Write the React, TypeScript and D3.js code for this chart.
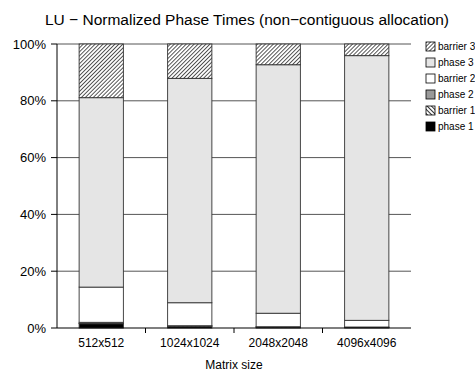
import * as d3 from 'd3';
import { useRef, useEffect } from 'react';

// categories and stacked values (percent of total time)
const categories = ['512x512', '1024x1024', '2048x2048', '4096x4096'];
const phase1 = [1.5, 0.6, 0.3, 0.2];
const phase2 = [0.4, 0.1, 0.1, 0.1];
const barrier1 = [0.1, 0.1, 0.05, 0.05];
const barrier2 = [12.4, 8.1, 4.75, 2.35];
const phase3 = [66.7, 79.0, 87.5, 93.2];
const barrier3 = [18.9, 12.1, 7.3, 4.1];
const yTicks = [0, 20, 40, 60, 80, 100];

const seriesKeys = ['phase 1', 'barrier 1', 'phase 2', 'barrier 2', 'phase 3', 'barrier 3'];
const seriesValues: Record<string, number[]> = {
  'phase 1': phase1,
  'barrier 1': barrier1,
  'phase 2': phase2,
  'barrier 2': barrier2,
  'phase 3': phase3,
  'barrier 3': barrier3,
};
const legendOrder = ['barrier 3', 'phase 3', 'barrier 2', 'phase 2', 'barrier 1', 'phase 1'];

export default function App() {
  const ref = useRef<SVGSVGElement>(null);

  useEffect(() => {
    document.body.style.margin = '0';
    const width = 475;
    const height = 371;
    const margin = { top: 44, right: 64, bottom: 43, left: 57 };

    const svg = d3.select(ref.current)
      .attr('width', width)
      .attr('height', height)
      .style('font-family', 'Liberation Sans, Arial, sans-serif');
    svg.selectAll('*').remove();

    // hatch patterns
    const defs = svg.append('defs');
    const p3 = defs.append('pattern')
      .attr('id', 'hatch-b3')
      .attr('patternUnits', 'userSpaceOnUse')
      .attr('width', 2.8)
      .attr('height', 2.8)
      .attr('patternTransform', 'rotate(45)');
    p3.append('rect').attr('width', 2.8).attr('height', 2.8).attr('fill', 'white');
    p3.append('line').attr('x1', 0).attr('y1', 0).attr('x2', 0).attr('y2', 2.8)
      .attr('stroke', 'black').attr('stroke-width', 1.3);
    const p1 = defs.append('pattern')
      .attr('id', 'hatch-b1')
      .attr('patternUnits', 'userSpaceOnUse')
      .attr('width', 3)
      .attr('height', 3)
      .attr('patternTransform', 'rotate(-45)');
    p1.append('rect').attr('width', 3).attr('height', 3).attr('fill', 'white');
    p1.append('line').attr('x1', 0).attr('y1', 0).attr('x2', 0).attr('y2', 3)
      .attr('stroke', 'black').attr('stroke-width', 1.6);

    const fills: Record<string, string> = {
      'phase 1': '#000000',
      'barrier 1': 'url(#hatch-b1)',
      'phase 2': '#999999',
      'barrier 2': '#ffffff',
      'phase 3': '#e5e5e5',
      'barrier 3': 'url(#hatch-b3)',
    };

    const x = d3.scaleBand()
      .domain(categories)
      .range([margin.left, width - margin.right])
      .paddingInner(0.5)
      .paddingOuter(0.25);

    const y = d3.scaleLinear()
      .domain([0, 100])
      .range([height - margin.bottom, margin.top]);

    // gridlines
    svg.append('g')
      .selectAll('line')
      .data(yTicks.filter(t => t > 0))
      .enter()
      .append('line')
      .attr('x1', margin.left)
      .attr('x2', width - margin.right)
      .attr('y1', d => y(d))
      .attr('y2', d => y(d))
      .attr('stroke', '#555')
      .attr('stroke-width', 1);

    // stacked bars
    const rows = categories.map((c, i) => {
      const r: any = { category: c };
      seriesKeys.forEach(k => { r[k] = seriesValues[k][i]; });
      return r;
    });
    const stacked = d3.stack().keys(seriesKeys)(rows);

    svg.append('g')
      .selectAll('g')
      .data(stacked)
      .enter()
      .append('g')
      .attr('fill', d => fills[d.key])
      .selectAll('rect')
      .data(d => d)
      .enter()
      .append('rect')
      .attr('x', d => x((d.data as any).category)!)
      .attr('width', x.bandwidth())
      .attr('y', d => y(d[1]))
      .attr('height', d => y(d[0]) - y(d[1]))
      .attr('stroke', '#333')
      .attr('stroke-width', 0.9);

    // y axis
    const yAxis = svg.append('g').attr('transform', `translate(${margin.left},0)`);
    yAxis.append('line')
      .attr('x1', 0).attr('x2', 0)
      .attr('y1', y(0)).attr('y2', y(100))
      .attr('stroke', 'black');
    yAxis.selectAll('line.tick')
      .data(yTicks)
      .enter()
      .append('line')
      .attr('class', 'tick')
      .attr('x1', -6).attr('x2', 0)
      .attr('y1', d => y(d)).attr('y2', d => y(d))
      .attr('stroke', 'black');
    yAxis.selectAll('text')
      .data(yTicks)
      .enter()
      .append('text')
      .attr('x', -11)
      .attr('y', d => y(d))
      .attr('dy', '0.36em')
      .attr('text-anchor', 'end')
      .style('font-size', '13px')
      .text(d => `${d}%`);

    // x axis
    const xAxis = svg.append('g');
    xAxis.append('line')
      .attr('x1', margin.left).attr('x2', width - margin.right)
      .attr('y1', y(0)).attr('y2', y(0))
      .attr('stroke', 'black')
      .attr('stroke-width', 1.2);
    xAxis.selectAll('line.tick')
      .data(categories.slice(1))
      .enter()
      .append('line')
      .attr('class', 'tick')
      .attr('x1', d => x(d)! - x.step() * x.paddingInner() / 2)
      .attr('x2', d => x(d)! - x.step() * x.paddingInner() / 2)
      .attr('y1', y(0)).attr('y2', y(0) + 5)
      .attr('stroke', 'black');
    xAxis.selectAll('text')
      .data(categories)
      .enter()
      .append('text')
      .attr('x', d => x(d)! + x.bandwidth() / 2)
      .attr('y', y(0) + 19)
      .attr('text-anchor', 'middle')
      .style('font-size', '12px')
      .text(d => d);

    svg.append('text')
      .attr('x', (margin.left + width - margin.right) / 2)
      .attr('y', 369)
      .attr('text-anchor', 'middle')
      .style('font-size', '12px')
      .text('Matrix size');

    // title
    svg.append('text')
      .attr('x', 247)
      .attr('y', 25)
      .attr('text-anchor', 'middle')
      .style('font-size', '15.5px')
      .text('LU \u2212 Normalized Phase Times (non\u2212contiguous allocation)');

    // legend
    const legend = svg.append('g').attr('transform', 'translate(426,42)');
    legend.selectAll('rect')
      .data(legendOrder)
      .enter()
      .append('rect')
      .attr('x', 0)
      .attr('y', (d, i) => i * 16)
      .attr('width', 9)
      .attr('height', 9)
      .attr('fill', d => fills[d])
      .attr('stroke', 'black')
      .attr('stroke-width', 0.8);
    legend.selectAll('text')
      .data(legendOrder)
      .enter()
      .append('text')
      .attr('x', 12)
      .attr('y', (d, i) => i * 16 + 4.5)
      .attr('dy', '0.36em')
      .style('font-size', '10px')
      .text(d => d);
  }, []);

  return <svg ref={ref} style={{ display: 'block' }}></svg>;
}
